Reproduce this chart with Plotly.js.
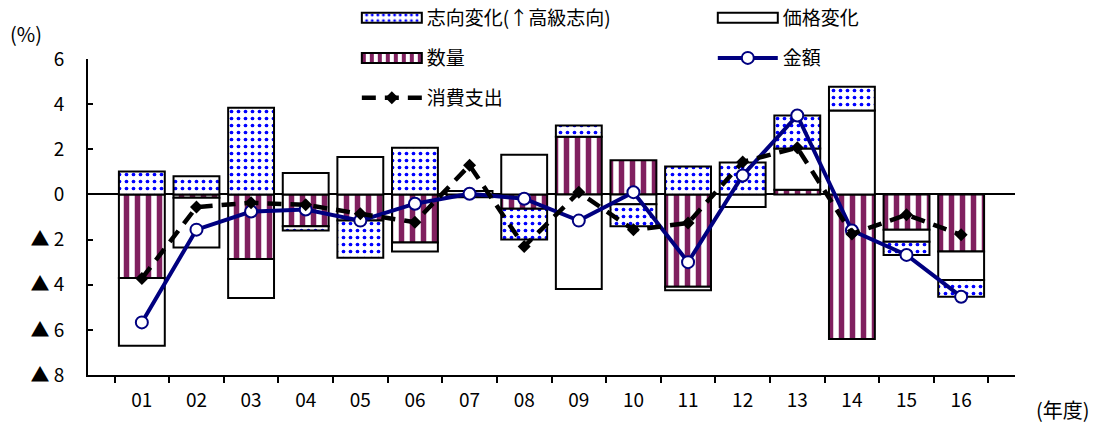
<!DOCTYPE html>
<html>
<head>
<meta charset="utf-8">
<script src="https://cdn.plot.ly/plotly-3.0.1.min.js"></script>
<style>html,body{margin:0;padding:0;background:#fff;}#chart{width:1099px;height:425px;}</style>
</head>
<body>
<div id="chart"></div>
<script>
const categories = ['01','02','03','04','05','06','07','08','09','10','11','12','13','14','15','16'];
const quantity = [-3.7, -0.15, -2.86, -1.41, -1.16, -2.13, -0.12, -0.64, 2.55, 1.51, -4.09, 0.0, 0.21, -6.41, -1.57, -2.53];
const priceChange = [-3.0, -2.2, -1.73, 0.95, 1.66, -0.4, 0.15, 1.76, -4.19, -0.44, -0.15, -0.56, 1.82, 3.72, -0.53, -1.26];
const preference = [1.02, 0.8, 3.84, -0.19, -1.65, 2.07, 0.0, -1.36, 0.5, -0.97, 1.24, 1.42, 1.47, 1.05, -0.58, -0.74];
const amount = [-5.67, -1.56, -0.76, -0.67, -1.16, -0.41, 0.03, -0.19, -1.16, 0.1, -3.0, 0.84, 3.5, -1.6, -2.68, -4.53];
const spending = [-3.72, -0.56, -0.37, -0.46, -0.86, -1.23, 1.29, -2.31, 0.1, -1.57, -1.27, 1.44, 2.07, -1.75, -0.9, -1.79];
const yTickVals = [-8, -6, -4, -2, 0, 2, 4, 6];
const yTickText = ['▲ 8', '▲ 6', '▲ 4', '▲ 2', '0', '2', '4', '6'];

const FONT = '"Noto Sans CJK JP", "Noto Sans", sans-serif';
const PURPLE = '#80205f';

const traces = [
  {type:'bar', name:'数量', x:categories, y:quantity, legend:'legend3',
   marker:{color:'#ffffff', line:{color:'#000', width:2},
     pattern:{shape:'|', fgcolor:PURPLE, bgcolor:'#ffffff', size:11, solidity:0.5, fillmode:'replace'}}},
  {type:'bar', name:'価格変化', x:categories, y:priceChange, legend:'legend2',
   marker:{color:'#ffffff', line:{color:'#000', width:2}}},
  {type:'bar', name:'志向変化(↑高級志向)', x:categories, y:preference, legend:'legend',
   marker:{color:'#ffffff', line:{color:'#000', width:2},
     pattern:{shape:'.', fgcolor:'#0000ff', bgcolor:'#ffffff', size:7, solidity:0.22, fillmode:'replace'}}},
  {type:'scatter', mode:'lines+markers', name:'金額', x:categories, y:amount, legend:'legend4',
   line:{color:'#000080', width:4},
   marker:{symbol:'circle', size:12, color:'#ffffff', line:{color:'#000080', width:2}}},
  {type:'scatter', mode:'lines+markers', name:'消費支出', x:categories, y:spending, legend:'legend5',
   line:{color:'#000000', width:4.5, dash:'14px,9px'},
   marker:{symbol:'diamond', size:10, color:'#000000', line:{color:'#000', width:0}}}
];

function leg(x, y) {
  return {x:x, y:y, xanchor:'left', yanchor:'middle', xref:'paper', yref:'paper',
    orientation:'v', bgcolor:'rgba(0,0,0,0)', borderwidth:0, itemwidth:60,
    font:{family:FONT, size:19, color:'#000'}};
}

const layout = {
  width:1099, height:425,
  margin:{l:88, r:84, t:59, b:50, autoexpand:false},
  paper_bgcolor:'#ffffff', plot_bgcolor:'#ffffff',
  barmode:'relative', bargap:0.16,
  font:{family:FONT, size:19, color:'#000'},
  showlegend:true,
  legend: leg(0.290, 1.13),
  legend2: leg(0.674, 1.13),
  legend3: leg(0.290, 1.003),
  legend4: leg(0.674, 1.003),
  legend5: leg(0.290, 0.877),
  xaxis:{type:'category', showline:true, linecolor:'#000', linewidth:2, mirror:false,
    ticks:'outside', ticklen:6, tickwidth:2, tickcolor:'#000', tickson:'boundaries',
    showgrid:false, zeroline:false, fixedrange:true, ticklabelstandoff:7,
    tickfont:{family:FONT, size:19, color:'#000'}},
  yaxis:{range:[-8, 6], tickvals:yTickVals, ticktext:yTickText, showline:true, linecolor:'#000', linewidth:2,
    ticks:'inside', ticklen:5, tickwidth:2, tickcolor:'#000', showgrid:false,
    zeroline:true, zerolinecolor:'#000', zerolinewidth:2, ticklabelstandoff:18,
    tickfont:{family:FONT, size:19, color:'#000'}},
  annotations:[
    {text:'(%)', xref:'paper', yref:'paper', x:-0.0863, y:1.082, xanchor:'left', yanchor:'middle', showarrow:false,
     font:{family:FONT, size:20, color:'#000'}},
    {text:'(年度)', xref:'paper', yref:'paper', x:1.0835, y:-0.1076, xanchor:'right', yanchor:'middle', showarrow:false,
     font:{family:FONT, size:20, color:'#000'}}
  ]
};

function widenSwatches() {
  // widen bar swatches in the legend to match the reference's long rectangles
  document.querySelectorAll('.legendpoints path').forEach(function (p) {
    var d = p.getAttribute('d') || '';
    if (/^M6,6H-6V-6H6Z$/.test(d.replace(/\s/g, ''))) {
      p.setAttribute('d', 'M30,5H-30V-5H30Z');
    }
  });
}

var gd = document.getElementById('chart');
Plotly.newPlot(gd, traces, layout, {displayModeBar:false, staticPlot:true}).then(function () {
  widenSwatches();
  gd.on('plotly_afterplot', widenSwatches);
  setTimeout(widenSwatches, 50);
  setTimeout(widenSwatches, 300);
});
</script>
</body>
</html>
